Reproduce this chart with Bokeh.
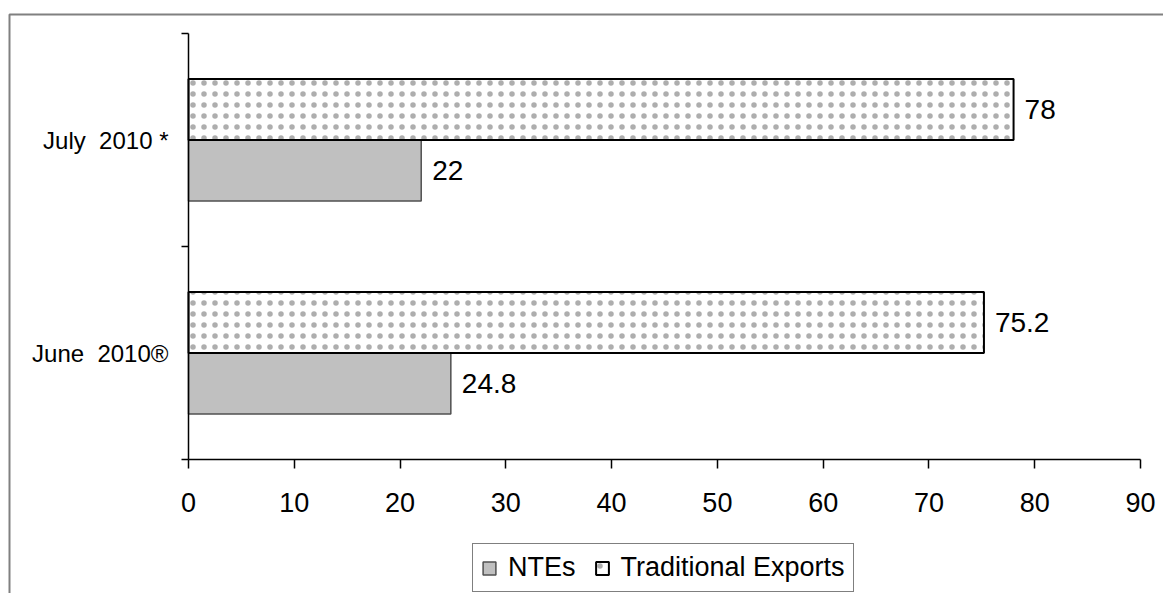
from bokeh.plotting import figure
from bokeh.models import (Range1d, FixedTicker, ColumnDataSource, Legend, LegendItem,
                          LinearAxis, BoxAnnotation)
from bokeh.core.properties import value
from bokeh.embed import file_html
from bokeh.resources import INLINE

categories = ["June \u00a02010®", "July \u00a02010 *"]
ntes = [24.8, 22]
traditional = [75.2, 78]
x_ticks = [0, 10, 20, 30, 40, 50, 60, 70, 80, 90]

FONT = "Liberation Sans"
BAR_H = 0.286

# canvas geometry (pixels)
W, H = 1163, 593
AX_L, AX_R, AX_T, AX_B = 188, 1140, 33, 459
X_MAX = x_ticks[-1]
N = len(categories)
ppx = (AX_R - AX_L) / X_MAX
ppy = (AX_B - AX_T) / N

idx = list(range(N))
centers = [i + 0.5 for i in idx]

src_nte = ColumnDataSource(dict(
    y=[c - BAR_H / 2 for c in centers], val=ntes,
    lbl=[f"{v:g}" for v in ntes]))
src_trad = ColumnDataSource(dict(
    y=[c + BAR_H / 2 for c in centers], val=traditional,
    lbl=[f"{v:g}" for v in traditional]))

p = figure(width=W, height=H,
           x_range=Range1d(-AX_L / ppx, X_MAX + (W - AX_R) / ppx),
           y_range=Range1d(-(H - AX_B) / ppy, N + AX_T / ppy),
           output_backend="svg", toolbar_location=None,
           min_border=0, min_border_left=0, min_border_right=0,
           min_border_top=0, min_border_bottom=0,
           x_axis_location=None, y_axis_location=None)
p.outline_line_color = None
p.xgrid.visible = False
p.ygrid.visible = False
p.background_fill_color = "white"
p.border_fill_color = "white"

# outer chart-area frame (gray); its right/bottom edges fall outside the picture
p.add_layout(BoxAnnotation(left=9, right=W + 50, top=14, bottom=H + 50,
                           left_units="canvas", right_units="canvas",
                           top_units="canvas", bottom_units="canvas",
                           fill_alpha=0, line_color="#808080", line_alpha=1, line_width=2))

# x axis
xaxis = LinearAxis(ticker=FixedTicker(ticks=x_ticks, minor_ticks=[]),
                   fixed_location=0, bounds=(0, X_MAX))
xaxis.axis_line_color = "black"
xaxis.axis_line_width = 1.5
xaxis.major_tick_line_color = "black"
xaxis.major_tick_line_width = 1.5
xaxis.major_tick_in = 0
xaxis.major_tick_out = 9
xaxis.minor_tick_line_color = None
xaxis.major_label_text_font = FONT
xaxis.major_label_text_font_size = "27px"
xaxis.major_label_text_color = "black"
xaxis.major_label_standoff = 24
p.add_layout(xaxis, "below")

# y axis
yaxis = LinearAxis(ticker=FixedTicker(ticks=centers, minor_ticks=list(range(N + 1))),
                   fixed_location=0, bounds=(0, N))
yaxis.major_label_overrides = {c: cat for c, cat in zip(centers, categories)}
yaxis.axis_line_color = "black"
yaxis.axis_line_width = 1.5
yaxis.major_tick_line_color = None
yaxis.major_tick_in = 0
yaxis.major_tick_out = 0
yaxis.minor_tick_line_color = "black"
yaxis.minor_tick_line_width = 1.5
yaxis.minor_tick_in = 0
yaxis.minor_tick_out = 7
yaxis.major_label_text_font = FONT
yaxis.major_label_text_font_size = "24px"
yaxis.major_label_text_color = "black"
yaxis.major_label_standoff = 13
p.add_layout(yaxis, "left")

r_nte = p.hbar(y="y", right="val", left=0, height=BAR_H, source=src_nte,
               fill_color="#C0C0C0", line_color="#505050", line_width=1.5)
r_trad = p.hbar(y="y", right="val", left=0, height=BAR_H, source=src_trad,
                fill_color="white", line_color="black", line_width=2,
                hatch_pattern="dot", hatch_color="#9a9a9a", hatch_alpha=0.8,
                hatch_scale=11, hatch_weight=1)

for s in (src_nte, src_trad):
    p.text(x="val", y="y", text="lbl", source=s, x_offset=11, text_baseline="middle",
           text_align="left", text_font=value(FONT), text_font_size="28px", text_color="black")

legend = Legend(items=[LegendItem(label="NTEs", renderers=[r_nte]),
                       LegendItem(label="Traditional Exports", renderers=[r_trad])],
                orientation="horizontal", location=(472, 1))
legend.label_text_font = FONT
legend.label_text_font_size = "27px"
legend.label_text_color = "black"
legend.border_line_color = "black"
legend.border_line_width = 1.5
legend.background_fill_color = "white"
legend.background_fill_alpha = 1
legend.glyph_width = 16
legend.glyph_height = 16
legend.label_standoff = 11
legend.spacing = 18
legend.padding = 8
legend.margin = 0
p.add_layout(legend, "center")

open("out.html", "w").write(file_html(p, INLINE))
